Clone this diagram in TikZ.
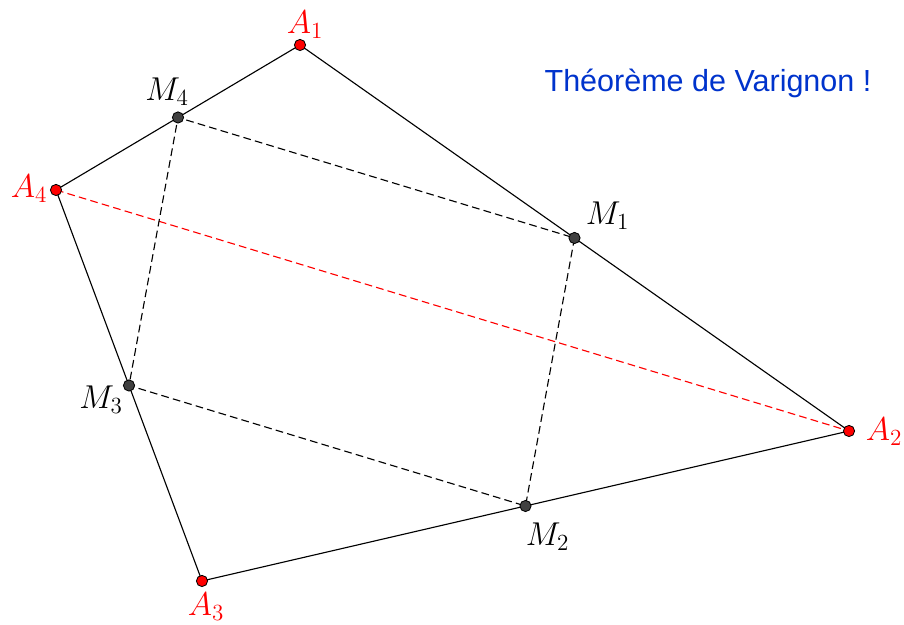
\RequirePackage{fix-cm}
\documentclass[tikz,border=0pt]{standalone}
\usepackage{amsmath}
\usepackage{fontspec}
\newfontfamily\titlefont{Liberation Sans}
\usepackage{tikz}
\usetikzlibrary{calc}
\definecolor{titleblue}{RGB}{0,51,204}
\definecolor{dotgray}{RGB}{64,64,64}

\begin{document}
\begin{tikzpicture}[
    side/.style={line width=0.8pt},
    mid/.style={line width=0.8pt,dash pattern=on 5.5pt off 3pt},
    vertex/.style={circle,draw,line width=0.6pt,fill=red,inner sep=0pt,minimum size=0.28cm},
    midpt/.style={vertex,fill=dotgray},
    lbl/.style={font=\fontsize{23.5}{28}\selectfont}]
        \useasboundingbox (0,0) rectangle (22.6,15.625);

        % sommets
        \coordinate (A1) at (7.5,14.5);
        \coordinate (A2) at (21.225,4.85);
        \coordinate (A3) at (5.05,1.1);
        \coordinate (A4) at (1.4,10.875);

        % milieux
        \coordinate (M1) at ($(A1)!0.5!(A2)$);
        \coordinate (M2) at ($(A2)!0.5!(A3)$);
        \coordinate (M3) at ($(A3)!0.5!(A4)$);
        \coordinate (M4) at ($(A4)!0.5!(A1)$);

        % quadrilatere
        \draw[side] (A1)--(A2)--(A3)--(A4)--cycle;

        % diagonale
        \draw[mid,red] (A4)--(A2);

        % parallelogramme
        \draw[mid] (M1)--(M2)--(M3)--(M4)--cycle;

        % points
        \foreach \i in {1,...,4} {
          \node[vertex] (pA\i) at (A\i) {};
          \node[midpt] (pM\i) at (M\i) {};
        }

        % noms
        \node[lbl,red] (lA1) at ($(A1)+(0.125,0.5)$) {\(A_1\)};
        \node[lbl,red] (lA2) at ($(A2)+(0.875,-0.025)$) {\(A_2\)};
        \node[lbl,red] (lA3) at ($(A3)+(0.1,-0.65)$) {\(A_3\)};
        \node[lbl,red] (lA4) at ($(A4)+(-0.675,0.025)$) {\(A_4\)};
        \node[lbl] (lM1) at ($(M1)+(0.825,0.55)$) {\(M_1\)};
        \node[lbl] (lM2) at ($(M2)+(0.55,-0.775)$) {\(M_2\)};
        \node[lbl] (lM3) at ($(M3)+(-0.7,-0.35)$) {\(M_3\)};
        \node[lbl] (lM4) at ($(M4)+(-0.275,0.65)$) {\(M_4\)};

        \node[anchor=base,text=titleblue,font=\titlefont\fontsize{21.7}{26}\selectfont] (titre) at (17.7,13.325) {Théorème de Varignon !};
      \end{tikzpicture}
\end{document}
